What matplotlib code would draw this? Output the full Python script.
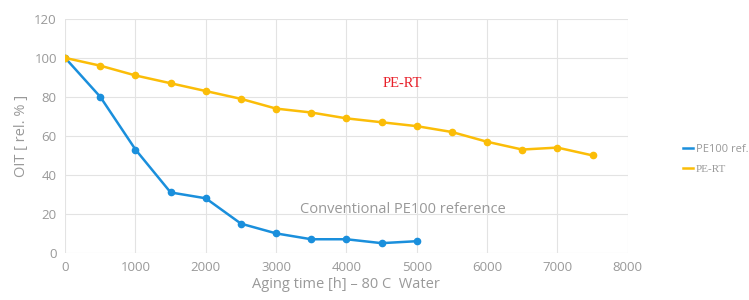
import matplotlib.pyplot as plt

plt.rcParams['font.family'] = ['Open Sans', 'DejaVu Sans']

# Aging data
hours_pe100 = [0, 500, 1000, 1500, 2000, 2500, 3000, 3500, 4000, 4500, 5000]
oit_pe100 = [100, 80, 53, 31, 28, 15, 10, 7, 7, 5, 6]

hours_pert = [0, 500, 1000, 1500, 2000, 2500, 3000, 3500, 4000, 4500, 5000,
              5500, 6000, 6500, 7000, 7500]
oit_pert = [100, 96, 91, 87, 83, 79, 74, 72, 69, 67, 65, 62, 57, 53, 54, 50]

x_ticks = [0, 1000, 2000, 3000, 4000, 5000, 6000, 7000, 8000]
y_ticks = [0, 20, 40, 60, 80, 100, 120]

blue = '#1a8fdc'
yellow = '#fbbd08'
grey = '#999999'

fig = plt.figure(figsize=(7.49, 3.0), dpi=100)
ax = fig.add_axes([0.087, 0.157, 0.751, 0.78])

l1, = ax.plot(hours_pe100, oit_pe100, color=blue, lw=1.8, marker='o', ms=4.5)
l2, = ax.plot(hours_pert, oit_pert, color=yellow, lw=1.8, marker='o', ms=4.5)

ax.set_xlim(0, 8000)
ax.set_ylim(0, 120)
ax.set_xticks(x_ticks)
ax.set_yticks(y_ticks)
ax.grid(True, color='#e3e3e3', lw=0.8)
ax.set_axisbelow(True)
for s in ax.spines.values():
    s.set_visible(False)
ax.tick_params(length=0, colors=grey, labelsize=9.5, pad=6)

ax.set_xlabel('Aging time [h] \u2013 80 C  Water', color=grey, fontsize=10.5, labelpad=2)
ax.set_ylabel('OIT [ rel. % ]', color=grey, fontsize=10.5, labelpad=4)

ax.text(4800, 87, 'PE-RT', color='#e8202a', fontsize=10.5,
        family='Liberation Serif', ha='center', va='center')
ax.text(4800, 22.5, 'Conventional PE100 reference', color=grey, fontsize=10.5,
        ha='center', va='center')

leg = fig.legend([l1, l2], ['PE100 ref.', 'PE-RT'], loc='center left',
                 bbox_to_anchor=(0.912, 0.47), frameon=False, fontsize=8,
                 borderaxespad=0, borderpad=0,
                 handlelength=0.9, handletextpad=0.25, labelspacing=0.8)
for h in leg.legend_handles:
    h.set_marker('')
for t in leg.get_texts():
    t.set_color(grey)
leg.get_texts()[1].set_family('Liberation Serif')

plt.savefig('out.png', dpi=100)
